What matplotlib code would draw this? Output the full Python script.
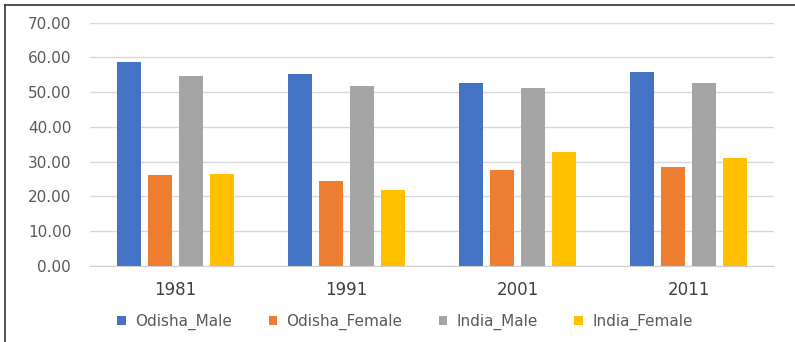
import matplotlib
matplotlib.use("Agg")
import matplotlib.pyplot as plt
from matplotlib.patches import Patch
from matplotlib.lines import Line2D
import numpy as np

years = ["1981", "1991", "2001", "2011"]
series_names = ["Odisha_Male", "Odisha_Female", "India_Male", "India_Female"]
odisha_male = [58.7, 55.3, 52.7, 55.9]
odisha_female = [26.3, 24.4, 27.6, 28.6]
india_male = [54.6, 51.7, 51.2, 52.7]
india_female = [26.5, 21.8, 32.7, 31.2]
y_ticks = [0, 10, 20, 30, 40, 50, 60, 70]

colors = ["#4472C4", "#ED7D31", "#A5A5A5", "#FFC000"]
values = [odisha_male, odisha_female, india_male, india_female]

plt.rcParams["font.family"] = ["DejaVu Sans"]

W, H = 795, 342
fig = plt.figure(figsize=(W / 100, H / 100), dpi=100)
ax = fig.add_axes([90 / W, 1 - 266 / H, (774 - 90) / W, (266 - 22.7) / H])

x = np.arange(len(years))
bar_w = 0.14
step = 0.181
for i, (vals, c) in enumerate(zip(values, colors)):
    ax.bar(x + (i - 1.5) * step, vals, width=bar_w, color=c, zorder=3)

ax.set_xlim(-0.5, len(years) - 0.5)
ax.set_ylim(0, 70)
ax.set_yticks(y_ticks)
ax.set_yticklabels([f"{v:.2f}" for v in y_ticks], fontsize=11, color="#595959")
ax.set_xticks(x)
ax.set_xticklabels(years, fontsize=12, color="#404040")
ax.tick_params(axis="both", length=0)
ax.tick_params(axis="y", pad=13.5)
ax.tick_params(axis="x", pad=11)
ax.grid(axis="y", color="#D9D9D9", linewidth=1, zorder=0)
for s in ["top", "right", "left"]:
    ax.spines[s].set_visible(False)
ax.spines["bottom"].set_color("#D0D0D0")
ax.spines["bottom"].set_zorder(4)

handles = [Patch(facecolor=c, edgecolor="none") for c in colors]
fig.legend(handles, series_names, loc="center", bbox_to_anchor=(405 / W, 1 - 322 / H),
           ncol=4, frameon=False, fontsize=11, handlelength=0.55, handleheight=0.55,
           handletextpad=0.6, columnspacing=2.4, labelcolor="#595959")

# outer frame
fig.add_artist(Line2D([5 / W, 5 / W], [0, 1 - 5 / H], color="#333333", linewidth=1.2,
                      transform=fig.transFigure))
fig.add_artist(Line2D([5 / W, 1], [1 - 5 / H, 1 - 5 / H], color="#333333", linewidth=1.2,
                      transform=fig.transFigure))

fig.savefig("out.png", dpi=100)
